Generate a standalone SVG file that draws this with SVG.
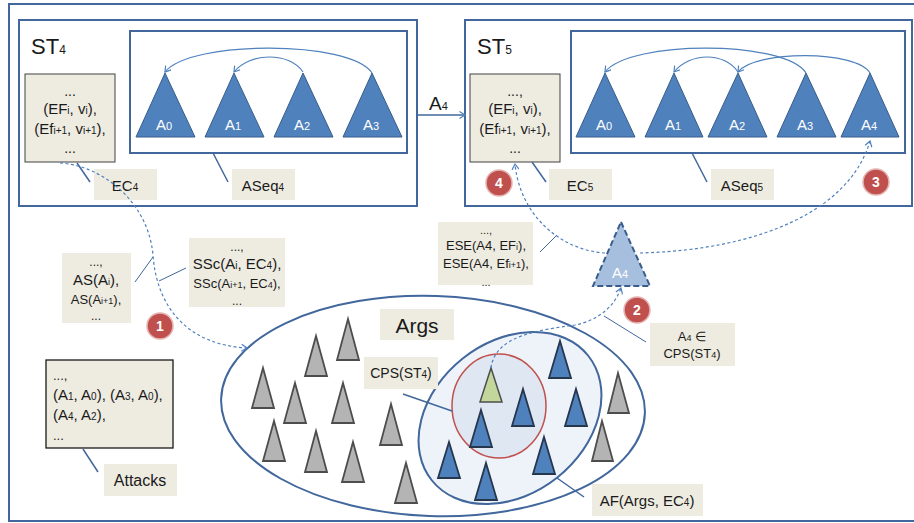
<svg xmlns="http://www.w3.org/2000/svg" width="914" height="523" viewBox="0 0 914 523">
<defs>
<style>
text{font-family:"Liberation Sans",Arial,sans-serif;fill:#1a1a1a}
.frame{fill:#fff;stroke:#41679c;stroke-width:2}
.inner{fill:#fff;stroke:#41679c;stroke-width:2}
.tan{fill:#eeece1}
.ecbox{fill:#eeece1;stroke:#404040;stroke-width:1}
.tri{fill:#4f81bd;stroke:#385d8a;stroke-width:1}
.btri{fill:#4f81bd;stroke:#26364d;stroke-width:1.8}
.gtri{fill:#b4b4b4;stroke:#4d4d4d;stroke-width:1.8}
.lead{stroke:#41679c;stroke-width:1.5;fill:none}
.thin{stroke:#41679c;stroke-width:1;fill:none}
.arc{stroke:#4f81bd;stroke-width:1.2;fill:none;marker-end:url(#v)}
.dash{stroke:#4f81bd;stroke-width:1.2;fill:none;stroke-dasharray:3 2.5;marker-end:url(#v)}
.tl{fill:#fff;font-size:15px;text-anchor:middle}
.c{text-anchor:middle}
.badge circle{fill:#c0504d;stroke:#e4b4b3;stroke-width:1.5}
.badge text{fill:#fff;font-weight:bold;font-size:14px;text-anchor:middle}
</style>
<marker id="v" markerWidth="8" markerHeight="8" refX="6" refY="4" orient="auto" markerUnits="userSpaceOnUse">
<path d="M0.5,0.5 L6,4 L0.5,7.5" fill="none" stroke="#4f81bd" stroke-width="1.2"/>
</marker>
</defs>
<rect x="0" y="0" width="914" height="523" fill="#fff"/>
<rect id="outer" x="9" y="4" width="930" height="517" fill="none" stroke="#41679c" stroke-width="2"/>

<g id="ST4">
<rect class="frame" x="19" y="20" width="398" height="186"/>
<text x="31" y="54" font-size="22">ST<tspan font-size="12">4</tspan></text>
</g>
<g id="ASeq4box">
<rect class="inner" x="130" y="31" width="277" height="122"/>
</g>
<g id="A0_4"><path class="tri" d="M165,73 L195,137 L136,137 Z"/><text class="tl" x="164" y="130">A<tspan font-size="11">0</tspan></text></g>
<g id="A1_4"><path class="tri" d="M234,73 L264,137 L205,137 Z"/><text class="tl" x="233" y="130">A<tspan font-size="11">1</tspan></text></g>
<g id="A2_4"><path class="tri" d="M303,73 L333,137 L274,137 Z"/><text class="tl" x="302" y="130">A<tspan font-size="11">2</tspan></text></g>
<g id="A3_4"><path class="tri" d="M372,73 L402,137 L343,137 Z"/><text class="tl" x="371" y="130">A<tspan font-size="11">3</tspan></text></g>
<g id="EC4box">
<rect class="ecbox" x="25" y="74" width="90" height="88"/>
<text class="c" x="70" y="96" font-size="14">...</text>
<text class="c" x="70" y="114" font-size="15">(EF<tspan font-size="10">i</tspan>, v<tspan font-size="10">i</tspan>),</text>
<text class="c" x="70" y="134" font-size="15">(Ef<tspan font-size="10">i+1</tspan>, v<tspan font-size="10">i+1</tspan>),</text>
<text class="c" x="70" y="153" font-size="14">...</text>
</g>
<g id="EC4label"><rect class="tan" x="94" y="169" width="63" height="31"/><text class="c" x="125" y="191" font-size="15">EC<tspan font-size="10">4</tspan></text></g>
<g id="ASeq4label"><rect class="tan" x="232" y="169" width="63" height="31"/><text class="c" x="263" y="191" font-size="15">ASeq<tspan font-size="10">4</tspan></text></g>

<g id="ST5">
<rect class="frame" x="465" y="20" width="447" height="186"/>
<text x="477" y="54" font-size="22">ST<tspan font-size="12">5</tspan></text>
</g>
<g id="ASeq5box">
<rect class="inner" x="571" y="31" width="334" height="122"/>
</g>
<g id="A0_5"><path class="tri" d="M605,73 L635,137 L576,137 Z"/><text class="tl" x="604" y="130">A<tspan font-size="11">0</tspan></text></g>
<g id="A1_5"><path class="tri" d="M674,73 L703,137 L645,137 Z"/><text class="tl" x="673" y="130">A<tspan font-size="11">1</tspan></text></g>
<g id="A2_5"><path class="tri" d="M738,73 L767,137 L708,137 Z"/><text class="tl" x="737" y="130">A<tspan font-size="11">2</tspan></text></g>
<g id="A3_5"><path class="tri" d="M806,73 L836,137 L777,137 Z"/><text class="tl" x="805" y="130">A<tspan font-size="11">3</tspan></text></g>
<g id="A4_5"><path class="tri" d="M870,73 L899,137 L841,137 Z"/><text class="tl" x="869" y="130">A<tspan font-size="11">4</tspan></text></g>
<g id="EC5box">
<rect class="ecbox" x="470" y="74" width="90" height="88"/>
<text class="c" x="515" y="96" font-size="14">...,</text>
<text class="c" x="515" y="114" font-size="15">(EF<tspan font-size="10">i</tspan>, v<tspan font-size="10">i</tspan>),</text>
<text class="c" x="515" y="134" font-size="15">(Ef<tspan font-size="10">i+1</tspan>, v<tspan font-size="10">i+1</tspan>),</text>
<text class="c" x="515" y="153" font-size="14">...</text>
</g>
<g id="EC5label"><rect class="tan" x="549" y="169" width="63" height="31"/><text class="c" x="580" y="191" font-size="15">EC<tspan font-size="10">5</tspan></text></g>
<g id="ASeq5label"><rect class="tan" x="711" y="169" width="63" height="31"/><text class="c" x="742" y="191" font-size="15">ASeq<tspan font-size="10">5</tspan></text></g>

<g id="ASbox">
<rect class="tan" x="62" y="253" width="69" height="70"/>
<text class="c" x="96" y="266" font-size="12">...,</text>
<text class="c" x="96" y="285" font-size="15">AS(A<tspan font-size="9">i</tspan>),</text>
<text class="c" x="96" y="304" font-size="13">AS(A<tspan font-size="9">i+1</tspan>),</text>
<text class="c" x="96" y="320" font-size="12">...</text>
</g>
<g id="SScbox">
<rect class="tan" x="189" y="238" width="96" height="69"/>
<text class="c" x="237" y="251" font-size="12">...,</text>
<text class="c" x="237" y="269" font-size="15">SSc(A<tspan font-size="10">i</tspan>, EC<tspan font-size="10">4</tspan>),</text>
<text class="c" x="237" y="288" font-size="13">SSc(A<tspan font-size="9">i+1</tspan>, EC<tspan font-size="9">4</tspan>),</text>
<text class="c" x="237" y="305" font-size="12">...</text>
</g>
<g id="AttacksBox">
<rect class="tan" x="46" y="360" width="127" height="88" stroke="#1a1a1a" stroke-width="1.3"/>
<text x="53" y="380" font-size="13">...,</text>
<text x="53" y="400" font-size="15">(A<tspan font-size="10">1</tspan>, A<tspan font-size="10">0</tspan>), (A<tspan font-size="10">3</tspan>, A<tspan font-size="10">0</tspan>),</text>
<text x="53" y="420" font-size="15">(A<tspan font-size="10">4</tspan>, A<tspan font-size="10">2</tspan>),</text>
<text x="53" y="440" font-size="13">...</text>
</g>
<g id="AttacksLabel"><rect class="tan" x="104" y="464" width="73" height="32"/><text class="c" x="140" y="486" font-size="16">Attacks</text></g>

<g id="Args">
<ellipse cx="433" cy="406" rx="212" ry="110" transform="rotate(2 433 406)" fill="#fff" stroke="#41679c" stroke-width="2"/>
</g>
<g id="AF">
<ellipse cx="510" cy="418" rx="100" ry="76" transform="rotate(-38.5 510 418)" fill="#eef3fa" stroke="#41679c" stroke-width="2"/>
</g>
<g id="CPS">
<ellipse cx="499" cy="406" rx="47" ry="52" fill="#dfe7f2" stroke="#c0504d" stroke-width="1.5"/>
</g>
<g id="grayArgs">
<path class="gtri" d="M348,319 L359,360 L337,360 Z"/>
<path class="gtri" d="M316,336 L327,376 L305,376 Z"/>
<path class="gtri" d="M263,368 L274,408 L252,408 Z"/>
<path class="gtri" d="M295,383 L306,423 L284,423 Z"/>
<path class="gtri" d="M343,383 L354,423 L332,423 Z"/>
<path class="gtri" d="M274,421 L285,461 L263,461 Z"/>
<path class="gtri" d="M316,431 L327,472 L305,472 Z"/>
<path class="gtri" d="M353,442 L364,482 L342,482 Z"/>
<path class="gtri" d="M391,404 L402,445 L380,445 Z"/>
<path class="gtri" d="M406,463 L417,503 L395,503 Z"/>
<path class="gtri" d="M618,373 L629,413 L608,413 Z"/>
<path class="gtri" d="M602,421 L613,461 L592,461 Z"/>
</g>
<g id="blueArgs">
<path class="btri" d="M560,341 L571,378 L549,378 Z"/>
<path class="btri" d="M576,389 L587,426 L565,426 Z"/>
<path class="btri" d="M523,389 L534,426 L512,426 Z"/>
<path class="btri" d="M481,410 L492,447 L470,447 Z"/>
<path class="btri" d="M544,437 L555,474 L533,474 Z"/>
<path class="btri" d="M449,442 L460,478 L438,478 Z"/>
<path class="btri" d="M486,463 L497,500 L475,500 Z"/>
</g>
<g id="A4cand">
<path d="M491,368 L502,402 L480,402 Z" fill="#c3d69b" stroke="#4d4d4d" stroke-width="1.5"/>
</g>
<g id="ArgsLabel"><rect class="tan" x="380" y="309" width="74" height="31"/><text class="c" x="417" y="333" font-size="21">Args</text></g>
<g id="CPSLabel"><rect class="tan" x="364" y="357" width="74" height="32"/><text class="c" x="401" y="378" font-size="14">CPS(ST<tspan font-size="10">4</tspan>)</text></g>
<g id="ESEbox">
<rect class="tan" x="438" y="222" width="95" height="63"/>
<text class="c" x="486" y="234" font-size="11">...,</text>
<text class="c" x="486" y="250" font-size="13">ESE(A4, EF<tspan font-size="9">i</tspan>),</text>
<text class="c" x="486" y="268" font-size="13">ESE(A4, Ef<tspan font-size="9">i+1</tspan>),</text>
<text class="c" x="486" y="286" font-size="11">...</text>
</g>
<g id="A4inLabel">
<rect class="tan" x="650" y="323" width="85" height="43"/>
<text class="c" x="692" y="341" font-size="13">A<tspan font-size="9">4</tspan> ∈</text>
<text class="c" x="692" y="358" font-size="13">CPS(ST<tspan font-size="9">4</tspan>)</text>
</g>
<g id="AFLabel"><rect class="tan" x="592" y="484" width="111" height="32"/><text class="c" x="647" y="506" font-size="15">AF(Args, EC<tspan font-size="10">4</tspan>)</text></g>

<g id="connectors">
<line x1="417" y1="115" x2="465" y2="115" stroke="#41679c" stroke-width="1.5" marker-end="url(#v)"/>
<text x="429" y="110" font-size="19">A<tspan font-size="11">4</tspan></text>
<path class="arc" d="M372,73 C350,40 190,40 165,72"/>
<path class="arc" d="M303,72 C290,52 250,52 234,72"/>
<path class="arc" d="M806,73 C785,40 630,40 605,72"/>
<path class="arc" d="M738,72 C725,52 690,52 674,72"/>
<path class="arc" d="M870,73 C857,50 755,50 738,72"/>
<path class="lead" d="M77,163 L90,182"/>
<path class="lead" d="M213,153 L228,182"/>
<path class="lead" d="M532,162 L546,182"/>
<path class="lead" d="M692,153 L707,182"/>
<path class="lead" d="M83,449 L98,472"/>
<path class="thin" d="M135,282 L153,257"/>
<path class="thin" d="M186,268 L159,281"/>
<path class="lead" d="M403,394 L452,411"/>
<path class="thin" d="M540,252 L557,235"/>
<path class="thin" d="M604,316 L646,342"/>
<path class="lead" d="M584,497 L557,478"/>
<path class="dash" d="M60,163 C100,165 148,200 153,255 C157,310 190,345 247,348"/>
<path class="dash" d="M491,368 C495,335 540,330 575,325 C600,320 615,305 621,288"/>
<path class="dash" d="M640,253 C760,250 850,210 870,141"/>
<path class="dash" d="M605,253 C560,250 520,215 515,164"/>
</g>
<g id="A4new">
<path d="M621,222 L650,286 L593,286 Z" fill="#a7bfde" stroke="#385d8a" stroke-width="2" stroke-dasharray="6 3"/>
<text class="tl" x="620" y="278">A<tspan font-size="11">4</tspan></text>
</g>
<g id="b1" class="badge"><circle cx="160" cy="326" r="13"/><text x="160" y="331">1</text></g>
<g id="b2" class="badge"><circle cx="637" cy="310" r="13"/><text x="637" y="315">2</text></g>
<g id="b3" class="badge"><circle cx="876" cy="182" r="13"/><text x="876" y="187">3</text></g>
<g id="b4" class="badge"><circle cx="499" cy="183" r="13"/><text x="499" y="188">4</text></g>
</svg>
